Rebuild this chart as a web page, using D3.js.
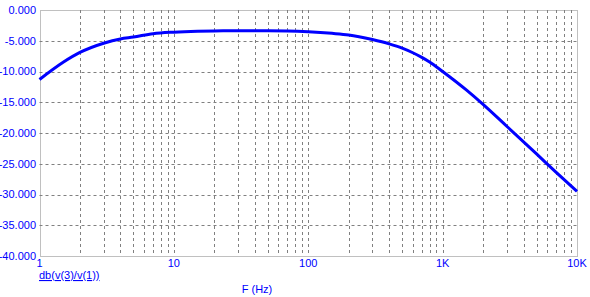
<!DOCTYPE html>
<html>
<head>
<meta charset="utf-8">
<script src="https://cdn.jsdelivr.net/npm/d3@7"></script>
<style>
  body { margin: 0; background: #fff; }
  text { font-family: "Liberation Sans", Arial, sans-serif; font-size: 11px; fill: #0000ff; }
</style>
</head>
<body>
<div id="chart"></div>
<script>
// frequency response
let freq = [1, 1.5, 2, 3, 4, 5, 7, 10, 15, 20, 30, 50, 70, 100, 150, 200, 300, 400, 500, 600, 700, 800, 1000, 1500, 2000, 3000, 5000, 7000, 10000];
let db = [-11.3, -8.5, -6.9, -5.4, -4.7, -4.4, -3.85, -3.6, -3.45, -3.4, -3.38, -3.38, -3.42, -3.55, -3.8, -4.05, -4.8, -5.5, -6.2, -6.95, -7.7, -8.45, -10.0, -13.0, -15.35, -18.9, -23.4, -26.4, -29.5];
let yTicks = [0, -5, -10, -15, -20, -25, -30, -35, -40];
let xMajor = [1, 10, 100, 1000, 10000];
let xLabels = ["1", "10", "100", "1K", "10K"];

let W = 590, H = 297;
let mLeft = 39.5, mRight = 577, mTop = 10, mBottom = 256;

let svg = d3.select("#chart").append("svg")
  .attr("width", W)
  .attr("height", H);

let x = d3.scaleLog().domain([1, 10000]).range([mLeft, mRight]);
let y = d3.scaleLinear().domain([-40, 0]).range([mBottom, mTop]);

// vertical grid: every 1..9 in each decade
let xGrid = [];
for (let d = 1; d < 10000; d *= 10) {
  for (let k = 1; k <= 9; k++) {
    if (d * k > 1) xGrid.push(d * k);
  }
}
svg.append("g").selectAll("line")
  .data(xGrid)
  .join("line")
  .attr("x1", d => Math.round(x(d)) + 0.5)
  .attr("x2", d => Math.round(x(d)) + 0.5)
  .attr("y1", mTop)
  .attr("y2", mBottom)
  .style("stroke", "#808080")
  .style("stroke-dasharray", "3,3");

svg.append("g").selectAll("line")
  .data(yTicks.filter(v => v > -40 && v < 0))
  .join("line")
  .attr("x1", mLeft)
  .attr("x2", mRight)
  .attr("y1", d => Math.round(y(d)) + 0.5)
  .attr("y2", d => Math.round(y(d)) + 0.5)
  .style("stroke", "#808080")
  .style("stroke-dasharray", "3,3");

// plot border
svg.append("rect")
  .attr("x", Math.round(mLeft) + 0.5)
  .attr("y", mTop + 0.5)
  .attr("width", Math.round(mRight) - Math.round(mLeft))
  .attr("height", mBottom - mTop)
  .style("fill", "none")
  .style("stroke", "#808080")
  .style("stroke-dasharray", "1,1");

// y labels
svg.append("g").selectAll("text")
  .data(yTicks)
  .join("text")
  .attr("x", 36)
  .attr("y", d => y(d))
  .attr("dy", "0.35em")
  .attr("text-anchor", "end")
  .text(d => d3.format(".3f")(d).replace("−", "-"));

// x labels
svg.append("g").selectAll("text")
  .data(xMajor)
  .join("text")
  .attr("x", d => x(d))
  .attr("y", 267)
  .attr("text-anchor", "middle")
  .text((d, i) => xLabels[i]);

svg.append("text")
  .attr("x", 257)
  .attr("y", 293)
  .attr("text-anchor", "middle")
  .text("F (Hz)");

svg.append("text")
  .attr("x", 39)
  .attr("y", 279)
  .style("text-decoration", "underline")
  .text("db(v(3)/v(1))");

// curve
let line = d3.line()
  .x((d, i) => x(freq[i]))
  .y(d => y(d))
  .curve(d3.curveMonotoneX);

svg.append("path")
  .datum(db)
  .attr("d", line)
  .style("fill", "none")
  .style("stroke", "#0000ff")
  .style("stroke-width", 3);
</script>
</body>
</html>
